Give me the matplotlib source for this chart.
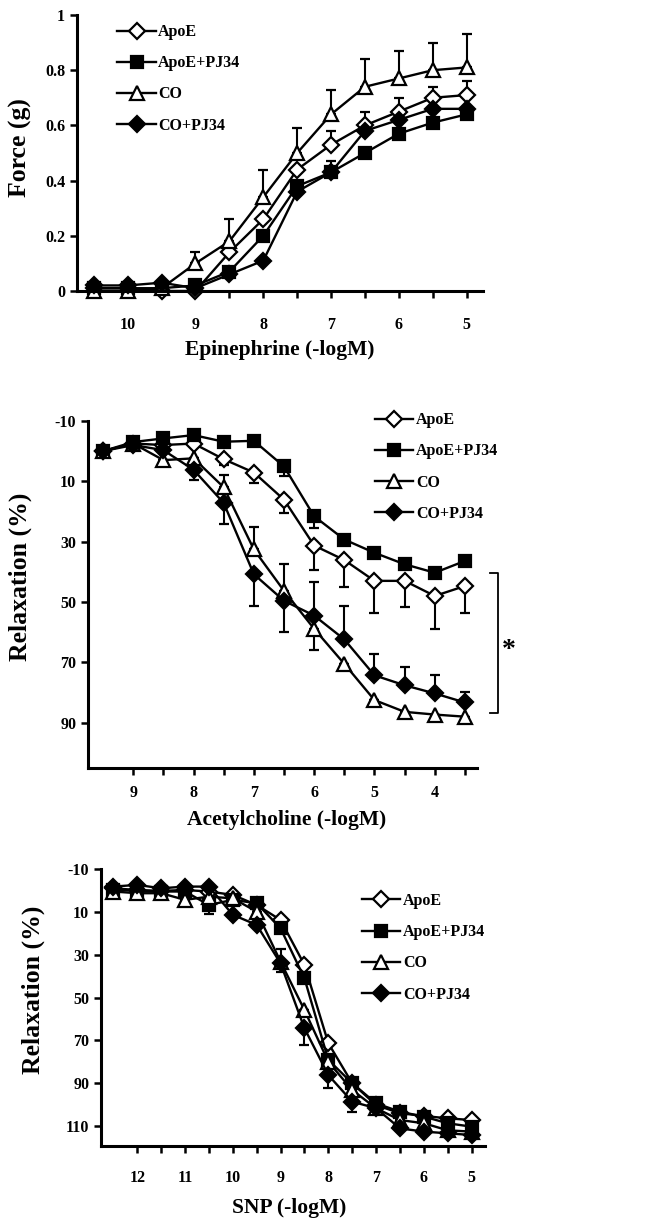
import numpy as np
import matplotlib
matplotlib.use("Agg")
import matplotlib.pyplot as plt

plt.rcParams["font.family"] = ["Liberation Serif", "DejaVu Serif"]
plt.rcParams["font.weight"] = "bold"
plt.rcParams["axes.unicode_minus"] = False

series_names = ["ApoE", "ApoE+PJ34", "CO", "CO+PJ34"]

# 图1: Epinephrine
epi_x = [10.5, 10, 9.5, 9, 8.5, 8, 7.5, 7, 6.5, 6, 5.5, 5]
epi_apoe = [0.01, 0.01, 0.0, 0.0, 0.14, 0.26, 0.44, 0.53, 0.60, 0.65, 0.70, 0.71]
epi_apoe_pj = [0.01, 0.01, 0.01, 0.02, 0.07, 0.20, 0.38, 0.43, 0.50, 0.57, 0.61, 0.64]
epi_co = [0.0, 0.0, 0.01, 0.10, 0.18, 0.34, 0.50, 0.64, 0.74, 0.77, 0.80, 0.81]
epi_co_pj = [0.02, 0.02, 0.03, 0.01, 0.06, 0.11, 0.36, 0.43, 0.58, 0.62, 0.66, 0.66]
# 误差 (正数 = 向上)
epi_apoe_err = [0, 0, 0, 0, 0, 0, 0, 0.05, 0.05, 0.05, 0.04, 0.05]
epi_apoe_pj_err = [0, 0, 0, 0, 0, 0, 0, 0.04, 0, 0, 0, 0]
epi_co_err = [0, 0, 0, 0.04, 0.08, 0.10, 0.09, 0.09, 0.10, 0.10, 0.10, 0.12]
epi_co_pj_err = [0, 0, 0, 0, 0, 0, 0.02, 0, 0, 0, 0, 0]

# 图2: Acetylcholine
ach_x = [9.5, 9, 8.5, 8, 7.5, 7, 6.5, 6, 5.5, 5, 4.5, 4, 3.5]
ach_apoe = [0, -2.5, -2, -2.5, 2.7, 7.1, 16.1, 31.3, 36.1, 43, 43, 48, 44.7]
ach_apoe_pj = [0, -3, -4.2, -5.3, -3.1, -3.4, 5.1, 21.6, 29.3, 33.7, 37.5, 40.3, 36.4]
ach_co = [0, -2.5, 3, 2.4, 12, 32.6, 46.3, 58.9, 70.5, 82.5, 86.4, 87.3, 88]
ach_co_pj = [0, -2, -0.3, 6.2, 17.2, 40.8, 49.6, 54.5, 62.4, 74.3, 77.6, 80.3, 83.3]
# 误差 (正数 = 数值变大, 负数 = 数值变小)
ach_apoe_err = [0, 0, 0, 0, 2, 3.5, 4.5, 8, 9, 10.5, 8.5, 11, 9]
ach_apoe_pj_err = [0, 0, 0, 0, 0, 0, 3, 4, 0, 0, 0, 0, 0]
ach_co_err = [0, 0, 0, 0, -4, -7.5, -9, 7, 0, 0, 0, 0, 0]
ach_co_pj_err = [0, 0, 0, 3.5, 7, 10.5, 10.5, -11, -11, -7, -6, -6, -3.5]

# 图3: SNP
snp_x = [12.5, 12, 11.5, 11, 10.5, 10, 9.5, 9, 8.5, 8, 7.5, 7, 6.5, 6, 5.5, 5]
snp_apoe = [-1.1, -0.3, 0.1, -0.3, 0.4, 2, 6.7, 13.7, 34.7, 71.3, 90, 100.2, 104, 105.3, 106.4, 107.2]
snp_apoe_pj = [-0.3, 0, 0.4, 0.4, 6.7, 4.3, 5.9, 17.6, 41, 79.1, 90, 99.4, 103.3, 105.6, 108.7, 110.3]
snp_co = [0.4, 1.2, 1.2, 4.3, 2.8, 3.6, 9.8, 33.2, 55.8, 80, 93.2, 101.7, 107.2, 108.7, 112, 112.6]
snp_co_pj = [-1.9, -2.7, -1.1, -1.9, -1.9, 11.3, 16, 34, 64.3, 86.2, 98.6, 101.7, 111.1, 112.6, 113.4, 114.2]
snp_apoe_err = [0] * 16
snp_apoe_pj_err = [0, 0, 0, 0, 4, 0, 0, 0, 0, 0, 0, 0, 0, 0, 0, 0]
snp_co_err = [0, 0, 0, 0, 0, 0, 0, -6, 0, 0, 0, 0, 0, 0, 0, 0]
snp_co_pj_err = [0, 0, 0, 0, 0, 0, 0, 4, 8, 6, 5, 0, 0, 0, 0, 0]

# 标记样式: (marker, facecolor, size)
styles = [("D", "white", 8.5), ("s", "black", 8.5), ("^", "white", 9.5), ("D", "black", 8.5)]


def split_err(e):
    e = np.asarray(e, dtype=float)
    return [np.where(e < 0, -e, 0), np.where(e > 0, e, 0)]


def draw_panel(ax, x, ys, errs):
    for name, y, e, (m, fc, ms) in zip(series_names, ys, errs, styles):
        ax.errorbar(x, y, yerr=split_err(e), color="black", lw=1.7,
                    marker=m, mfc=fc, mec="black", mew=1.6, ms=ms,
                    capsize=3.5, capthick=1.5, elinewidth=1.5, label=name,
                    clip_on=False)
    for s in ["top", "right"]:
        ax.spines[s].set_visible(False)
    for s in ["left", "bottom"]:
        ax.spines[s].set_linewidth(2.2)
    ax.tick_params(direction="out", length=5, width=1.8, labelsize=11.5)
    ax.invert_xaxis()


def half_labels(xs):
    return ["%d" % v if float(v).is_integer() else "" for v in xs]


def style_legend(ax, anchor):
    h, l = ax.get_legend_handles_labels()
    h = [hh[0] for hh in h]
    ax.legend(h, l, loc="upper left", bbox_to_anchor=anchor, frameon=False,
              fontsize=11.5, handlelength=2.4, handletextpad=0.15,
              labelspacing=0.95, borderaxespad=0, borderpad=0)


fig = plt.figure(figsize=(6.57, 12.2), dpi=100)

# ---- 图1 ----
ax1 = fig.add_axes([0.117, 0.7615, 0.618, 0.2262])
draw_panel(ax1, epi_x, [epi_apoe, epi_apoe_pj, epi_co, epi_co_pj],
           [epi_apoe_err, epi_apoe_pj_err, epi_co_err, epi_co_pj_err])
ax1.set_xlim(10.75, 4.76)
ax1.set_ylim(0, 1)
ax1.set_yticks([0, 0.2, 0.4, 0.6, 0.8, 1])
ax1.set_yticklabels(["0", "0.2", "0.4", "0.6", "0.8", "1"])
ax1.set_xticks(epi_x)
ax1.set_xticklabels(half_labels(epi_x))
ax1.tick_params(axis="x", pad=14)
ax1.set_xlabel("Epinephrine (-logM)", fontsize=15.5, fontweight="bold")
ax1.set_ylabel("Force (g)", fontsize=18.5, fontweight="bold")
ax1.xaxis.set_label_coords(0.5, -0.214)
ax1.yaxis.set_label_coords(-0.140, 0.518)
ax1.xaxis.label.set_va("center")
ax1.yaxis.label.set_va("center")
style_legend(ax1, (0.10, 0.967))

# ---- 图2 ----
ax2 = fig.add_axes([0.134, 0.3705, 0.592, 0.2845])
draw_panel(ax2, ach_x, [ach_apoe, ach_apoe_pj, ach_co, ach_co_pj],
           [ach_apoe_err, ach_apoe_pj_err, ach_co_err, ach_co_pj_err])
ax2.set_xlim(9.75, 3.3)
ax2.set_ylim(105, -10)
ax2.set_yticks([-10, 10, 30, 50, 70, 90])
ax2.set_xticks(ach_x[1:])
ax2.set_xticklabels(half_labels(ach_x[1:]))
ax2.tick_params(axis="x", pad=7)
ax2.set_xlabel("Acetylcholine (-logM)", fontsize=15.5, fontweight="bold")
ax2.set_ylabel("Relaxation (%)", fontsize=18.5, fontweight="bold")
ax2.xaxis.set_label_coords(0.51, -0.150)
ax2.yaxis.set_label_coords(-0.175, 0.55)
ax2.xaxis.label.set_va("center")
ax2.yaxis.label.set_va("center")
style_legend(ax2, (0.738, 1.025))
# 显著性括号
bracket_x = 2.95
bracket_lo, bracket_hi = 40.5, 86.7
ax2.plot([3.08, bracket_x, bracket_x, 3.08], [bracket_lo, bracket_lo, bracket_hi, bracket_hi],
         color="black", lw=1.3, clip_on=False)
ax2.text(2.77, 66, "*", fontsize=20, fontweight="bold", ha="center", va="center")

# ---- 图3 ----
ax3 = fig.add_axes([0.1537, 0.0607, 0.5845, 0.2268])
draw_panel(ax3, snp_x, [snp_apoe, snp_apoe_pj, snp_co, snp_co_pj],
           [snp_apoe_err, snp_apoe_pj_err, snp_co_err, snp_co_pj_err])
ax3.set_xlim(12.76, 4.72)
ax3.set_ylim(119.3, -10)
ax3.set_yticks([-10, 10, 30, 50, 70, 90, 110])
ax3.set_xticks(snp_x[1:])
ax3.set_xticklabels(half_labels(snp_x[1:]))
ax3.tick_params(axis="x", pad=12)
ax3.set_xlabel("SNP (-logM)", fontsize=15.5, fontweight="bold")
ax3.set_ylabel("Relaxation (%)", fontsize=18.5, fontweight="bold")
ax3.xaxis.set_label_coords(0.49, -0.224)
ax3.yaxis.set_label_coords(-0.177, 0.564)
ax3.xaxis.label.set_va("center")
ax3.yaxis.label.set_va("center")
style_legend(ax3, (0.68, 0.914))

plt.savefig("out.png", dpi=100)
